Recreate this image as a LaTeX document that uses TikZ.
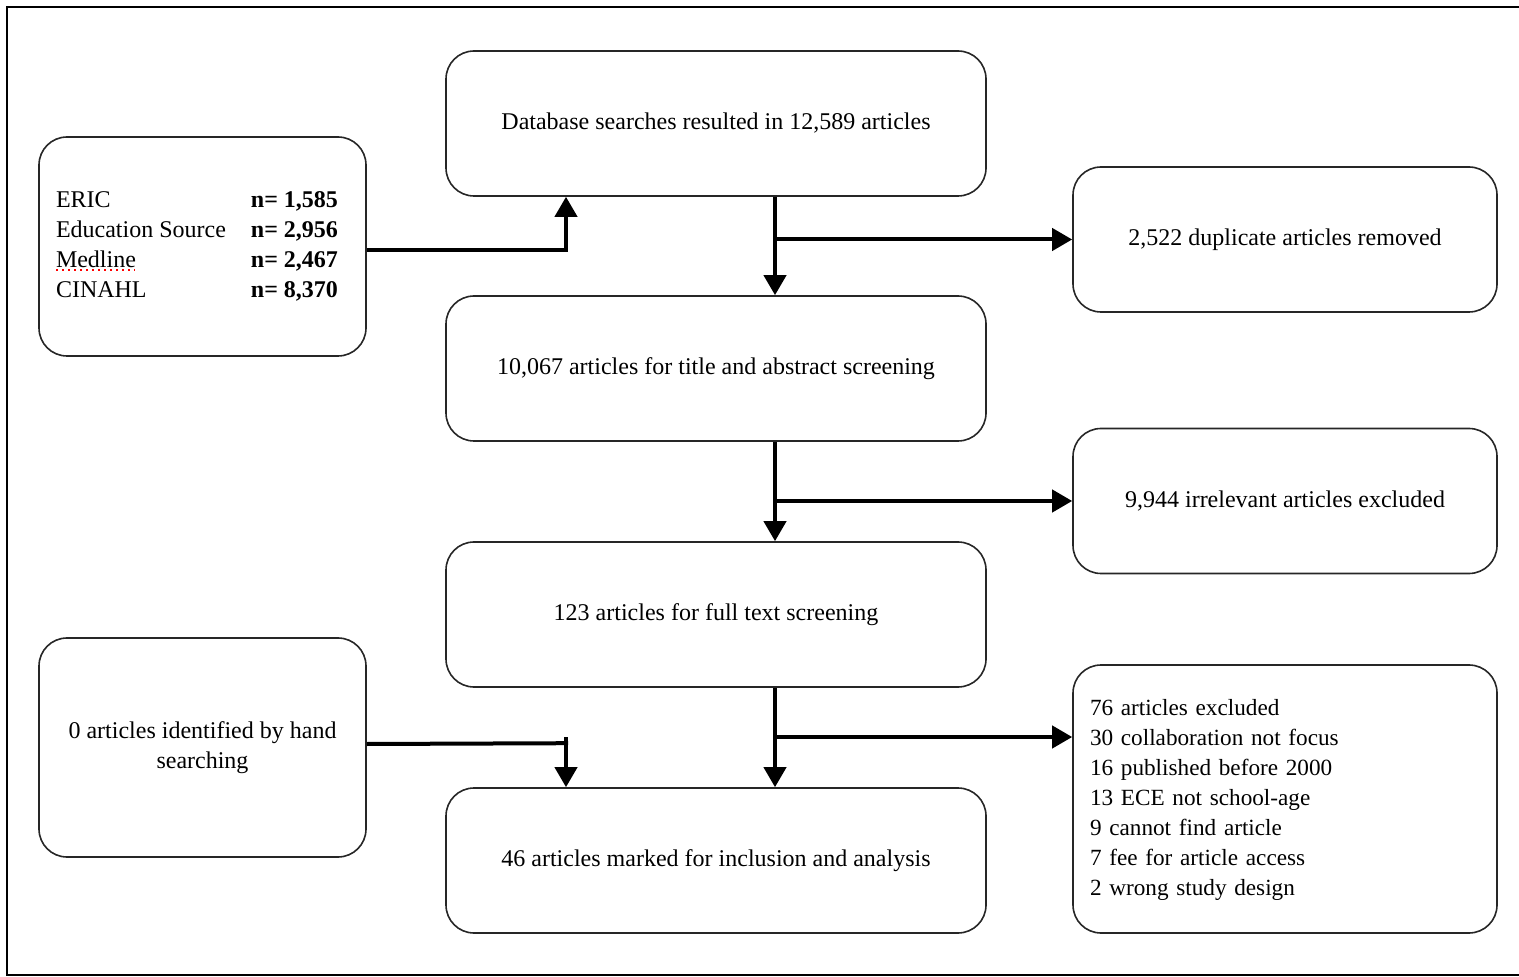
\documentclass[tikz,border=0pt]{standalone}
\usepackage{fontspec}
\setmainfont{Liberation Serif}
\usetikzlibrary{arrows.meta,calc}

\begin{document}
\begin{tikzpicture}[x=0.5pt,y=-0.5pt,
    box/.style={draw=black!85,line width=0.8pt,rounded corners=14pt,
      minimum width=270pt,minimum height=72.5pt,inner sep=0pt,
      font=\fontsize{12}{15}\selectfont},
    sidebox/.style={box,minimum width=212pt},
    leftbox/.style={box,minimum width=163.5pt,minimum height=109.5pt},
    arr/.style={line width=2pt,-{Triangle[width=11pt,length=10pt]}},
    ln/.style={line width=2pt}]
  \useasboundingbox (0,0) rectangle (1519,977);
  \draw [line width=1pt] (7,7) rectangle (1530,975);
  \node [leftbox] (srcs) at (202.5,246.5) {\hspace*{-5.5pt}%
    \begin{tabular*}{141pt}{@{}l@{\extracolsep{\fill}}r@{}}
      ERIC & \textbf{n= 1,585}\\
      Education Source & \textbf{n= 2,956}\\
      Medline & \textbf{n= 2,467}\\
      CINAHL & \textbf{n= 8,370}
    \end{tabular*}};
  \draw [red,dotted,line width=1pt] (56,270) -- (135,270);
  \node [box] (db) at (716,123.5) {Database searches resulted in 12,589 articles};
  \node [sidebox] (dup) at (1285,239.5) {2,522 duplicate articles removed};
  \node [box] (screen) at (716,368.5) {10,067 articles for title and abstract screening};
  \node [sidebox] (irrel) at (1285,501) {9,944 irrelevant articles excluded};
  \node [box] (full) at (716,614.5) {123 articles for full text screening};
  \node [leftbox,align=center] (hand) at (202.5,747.5) {0 articles identified by hand\\searching};
  \node [box] (incl) at (716,860.5) {46 articles marked for inclusion and analysis};
  \node [sidebox,minimum height=134pt,text width=195pt,inner xsep=8.5pt,align=left,
    font=\fontsize{11.6}{15}\selectfont] (excl) at (1285,799) {%
    \begin{tabular}{@{}l@{}}
      76 articles excluded\\
      30 collaboration not focus\\
      16 published before 2000\\
      13 ECE not school-age\\
      9 cannot find article\\
      7 fee for article access\\
      2 wrong study design
    \end{tabular}};
  \coordinate (spine) at (775,0);
  \coordinate (exclin) at ($(excl.west)+(0,-62)$);
  \draw [arr] ($(srcs.east)+(0,3.5)$) -| ($(db.south)+(-150,0)$);
  \draw [arr] (db.south -| spine) -- (screen.north -| spine);
  \draw [arr] (dup.west -| spine) -- (dup.west);
  \draw [arr] (screen.south -| spine) -- (full.north -| spine);
  \draw [arr] (irrel.west -| spine) -- (irrel.west);
  \draw [arr] (full.south -| spine) -- (incl.north -| spine);
  \draw [arr] (exclin -| spine) -- (exclin);
  \draw [ln] ($(hand.east)+(0,-3.5)$) -- ($(incl.north)+(-148,-44)$);
  \draw [arr] ($(incl.north)+(-150,-50)$) -- ($(incl.north)+(-150,0)$);
\end{tikzpicture}
\end{document}
